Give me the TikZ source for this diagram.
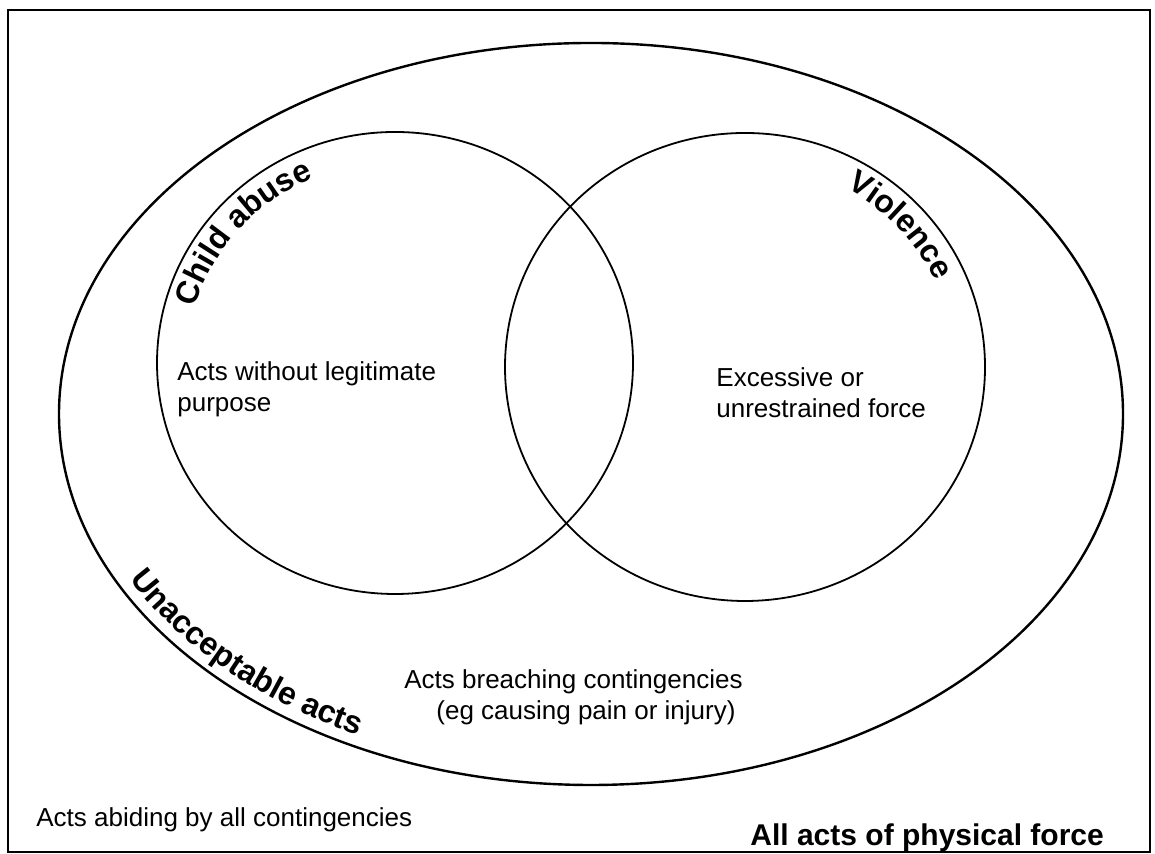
\documentclass[tikz,border=0pt]{standalone}
\usepackage{fontspec}
\setmainfont{Liberation Sans}
\usetikzlibrary{decorations.text}
\tikzset{
    setlabel/.style={font=\fontsize{13}{15.5}\selectfont,align=left,anchor=base west,inner sep=0pt},
    ringlabel/.style={decorate,decoration={text along path,text align=center,
        text={|\fontsize{16}{19}\selectfont\bfseries|#1}}}
}

\begin{document}
\begin{tikzpicture}[x=0.5pt,y=0.5pt]
    \useasboundingbox (0,0) rectangle (1155,854);
    \draw[line width=1.2pt] (8,2) rectangle (1150,844);
    % the three sets
    \coordinate (all) at (591,440);
    \coordinate (abuse) at (395,491);
    \coordinate (viol) at (745,487);
    \draw[line width=1.2pt] (all) ellipse [x radius=532,y radius=371];
    \draw[line width=0.9pt] (abuse) ellipse [x radius=238,y radius=231];
    \draw[line width=0.9pt] (viol) ellipse [x radius=240,y radius=234];
    % names written along the rims
    \path[ringlabel={Child abuse}] (abuse) ++(163:208 and 201)
        arc[start angle=163,end angle=114,x radius=208,y radius=201];
    \path[ringlabel={Violence}] (viol) ++(61:210 and 204)
        arc[start angle=61,end angle=25,x radius=210,y radius=204];
    \path[ringlabel={Unacceptable acts}] (all) ++(208:520 and 359)
        arc[start angle=208,end angle=243,x radius=520,y radius=359];
    % descriptions (base = last line)
    \node[setlabel] (aim) at (177,442) {Acts without legitimate\\purpose};
    \node[setlabel] (excess) at (716,436) {Excessive or\\unrestrained force};
    \node[setlabel] (breach) at (404,134) {Acts breaching contingencies\\\hspace*{16pt}(eg causing pain or injury)};
    \node[setlabel] (abide) at (36,27) {Acts abiding by all contingencies};
    \node[setlabel,font=\fontsize{15}{18}\selectfont\bfseries] (force) at (750,8) {All acts of physical force};
\end{tikzpicture}
\end{document}
